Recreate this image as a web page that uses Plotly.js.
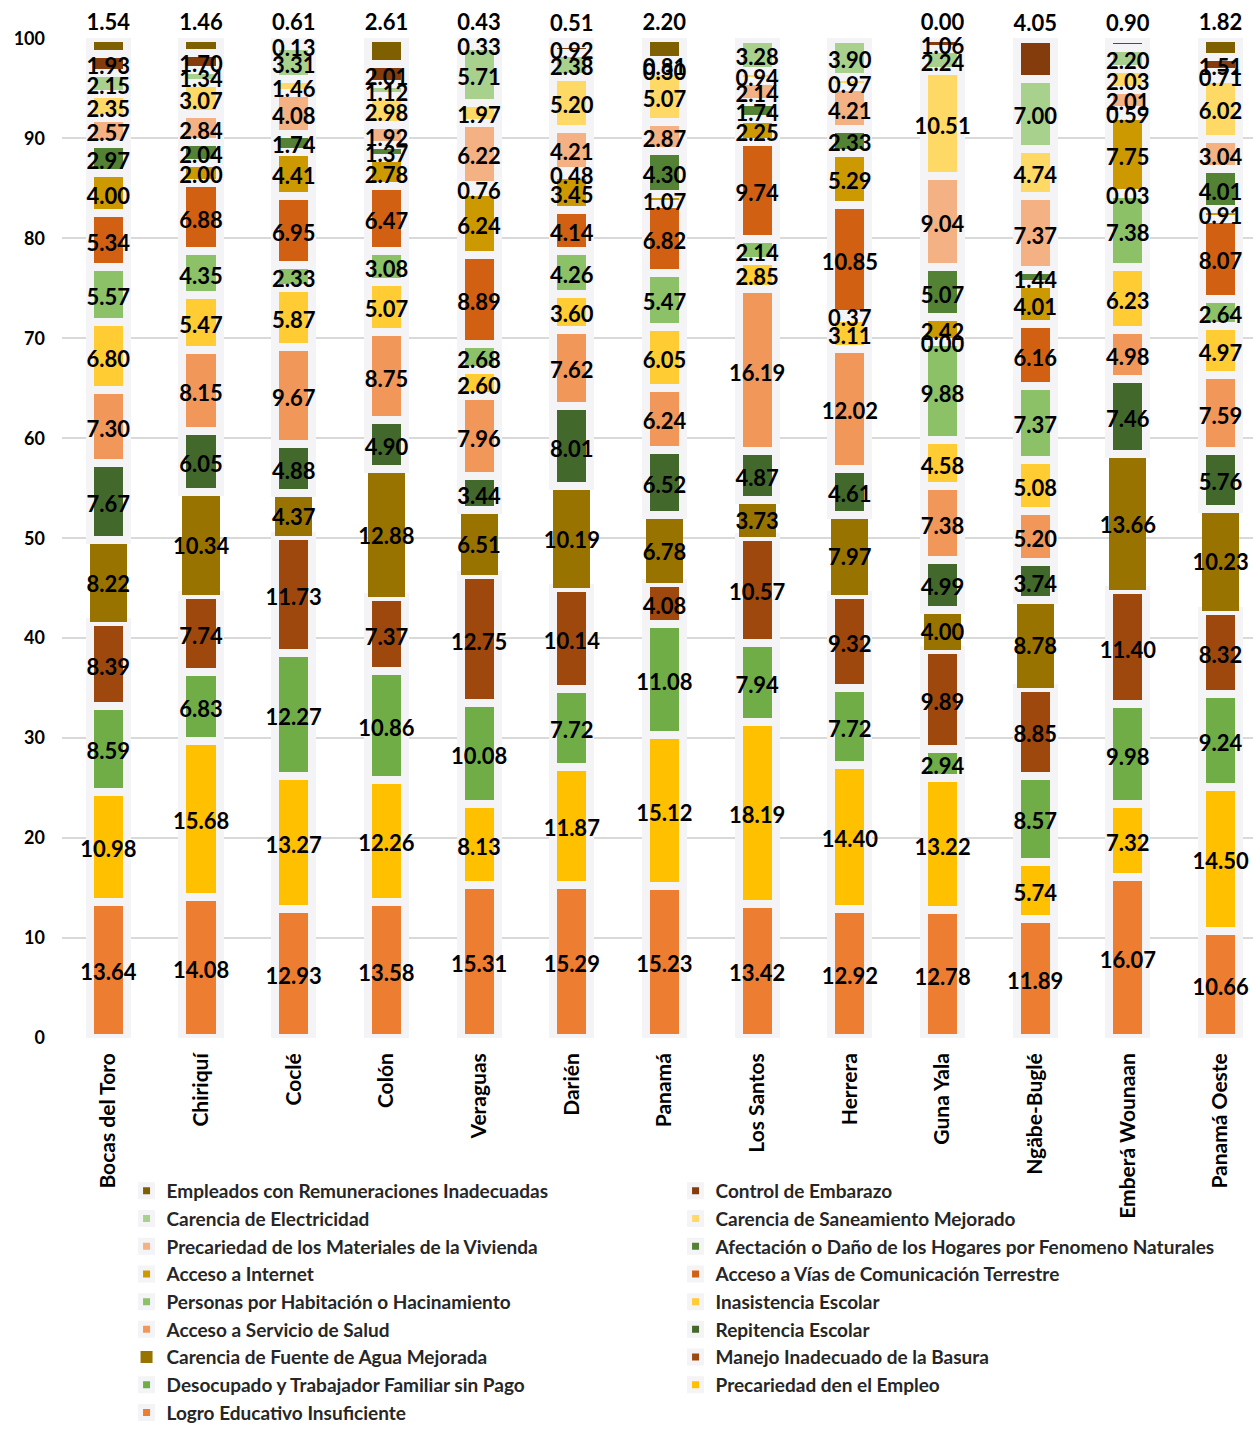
<!DOCTYPE html>
<html>
<head>
<meta charset="utf-8">
<script src="https://cdn.plot.ly/plotly-3.0.1.min.js"></script>
<style>
  body { margin: 0; background: #fff; }
  #chart { width: 1253px; height: 1431px; }
</style>
</head>
<body>
<div id="chart"></div>
<script>
// provinces and comarcas (x axis)
var regiones = ["Bocas del Toro", "Chiriquí", "Coclé", "Colón", "Veraguas", "Darién", "Panamá",
  "Los Santos", "Herrera", "Guna Yala", "Ngäbe-Buglé", "Emberá Wounaan", "Panamá Oeste"];

// one array per indicator, from the bottom of the stack to the top
var logro = [13.64, 14.08, 12.93, 13.58, 15.31, 15.29, 15.23, 13.42, 12.92, 12.78, 11.89, 16.07, 10.66];
var empleo = [10.98, 15.68, 13.27, 12.26, 8.13, 11.87, 15.12, 18.19, 14.40, 13.22, 5.74, 7.32, 14.50];
var desocupado = [8.59, 6.83, 12.27, 10.86, 10.08, 7.72, 11.08, 7.94, 7.72, 2.94, 8.57, 9.98, 9.24];
var basura = [8.39, 7.74, 11.73, 7.37, 12.75, 10.14, 4.08, 10.57, 9.32, 9.89, 8.85, 11.40, 8.32];
var agua = [8.22, 10.34, 4.37, 12.88, 6.51, 10.19, 6.78, 3.73, 7.97, 4.00, 8.78, 13.66, 10.23];
var repitencia = [7.67, 6.05, 4.88, 4.90, 3.44, 8.01, 6.52, 4.87, 4.61, 4.99, 3.74, 7.46, 5.76];
var salud = [7.30, 8.15, 9.67, 8.75, 7.96, 7.62, 6.24, 16.19, 12.02, 7.38, 5.20, 4.98, 7.59];
var inasistencia = [6.80, 5.47, 5.87, 5.07, 2.60, 3.60, 6.05, 2.85, 3.11, 4.58, 5.08, 6.23, 4.97];
var hacinamiento = [5.57, 4.35, 2.33, 3.08, 2.68, 4.26, 5.47, 2.14, 0.37, 9.88, 7.37, 7.38, 2.64];
var vias = [5.34, 6.88, 6.95, 6.47, 8.89, 4.14, 6.82, 9.74, 10.85, 0.00, 6.16, 0.03, 8.07];
var internet = [4.00, 2.00, 4.41, 2.78, 6.24, 3.45, 1.07, 2.25, 5.29, 2.42, 4.01, 7.75, 0.91];
var afectacion = [2.97, 2.04, 1.74, 1.37, 0.76, 0.48, 4.30, 1.74, 2.33, 5.07, 1.44, 0.59, 4.01];
var materiales = [2.57, 2.84, 4.08, 1.92, 6.22, 4.21, 2.87, 2.14, 4.21, 9.04, 7.37, 2.01, 3.04];
var saneamiento = [2.35, 3.07, 1.46, 2.98, 1.97, 5.20, 5.07, 0.94, 0.97, 10.51, 4.74, 2.03, 6.02];
var electricidad = [2.15, 1.34, 3.31, 1.12, 5.71, 2.38, 0.30, 3.28, 3.90, 2.24, 7.00, 2.20, 0.71];
var embarazo = [1.93, 1.70, 0.13, 2.01, 0.33, 0.92, 0.81, null, null, 1.06, 4.05, 0.90, 1.51];
var remuneraciones = [1.54, 1.46, 0.61, 2.61, 0.43, 0.51, 2.20, null, null, 0.00, null, null, 1.82];

var series = [
  {name: "Logro Educativo Insuficiente", y: logro, color: "#ED7D31"},
  {name: "Precariedad den el Empleo", y: empleo, color: "#FFC000"},
  {name: "Desocupado y Trabajador Familiar sin Pago", y: desocupado, color: "#70AD47"},
  {name: "Manejo Inadecuado de la Basura", y: basura, color: "#9E480E"},
  {name: "Carencia de Fuente de Agua Mejorada", y: agua, color: "#997300", noGlow: true},
  {name: "Repitencia Escolar", y: repitencia, color: "#43682B"},
  {name: "Acceso a Servicio de Salud", y: salud, color: "#F1975A"},
  {name: "Inasistencia Escolar", y: inasistencia, color: "#FFCD33"},
  {name: "Personas por Habitación o Hacinamiento", y: hacinamiento, color: "#8CC168"},
  {name: "Acceso a Vías de Comunicación Terrestre", y: vias, color: "#D26012"},
  {name: "Acceso a Internet", y: internet, color: "#CC9A00"},
  {name: "Afectación o Daño de los Hogares por Fenomeno Naturales", y: afectacion, color: "#548235"},
  {name: "Precariedad de los Materiales de la Vivienda", y: materiales, color: "#F4B183"},
  {name: "Carencia de Saneamiento Mejorado", y: saneamiento, color: "#FFD966"},
  {name: "Carencia de Electricidad", y: electricidad, color: "#A9D18E"},
  {name: "Control de Embarazo", y: embarazo, color: "#843C0C"},
  {name: "Empleados con Remuneraciones Inadecuadas", y: remuneraciones, color: "#7F6000"}
];

var labelFont = {family: "Lato", size: 22, color: "#000", weight: "bold"};

// the top label of each column sits above it
function isTop(k, i) {
  if (k === series.length - 1) return true;
  return k === series.length - 2 && remuneraciones[i] === null;
}

var data = series.map(function (s, k) {
  return {
    type: "bar",
    name: s.name,
    x: regiones,
    y: s.y,
    width: 0.40,
    text: s.y.map(function (v) { return v === null ? "" : v.toFixed(2); }),
    textposition: s.y.map(function (v, i) { return isTop(k, i) ? "outside" : "none"; }),
    textangle: 0,
    constraintext: "none",
    cliponaxis: false,
    outsidetextfont: labelFont,
    marker: {
      color: s.color,
      line: {color: s.noGlow ? s.color : "#F4F4F6", width: s.noGlow ? 0 : 8}
    },
    hoverinfo: "x+y+name"
  };
});

// the other value labels go in a text layer above all the bars,
// near the middle of each stacked segment
var lx = [], ly = [], lt = [];
regiones.forEach(function (r, i) {
  var base = 0;
  series.forEach(function (s, k) {
    var v = s.y[i];
    if (v === null) return;
    if (!isTop(k, i)) {
      lx.push(r);
      ly.push(base + v / 2 - 0.5);
      lt.push(v.toFixed(2));
    }
    base += v;
  });
});

data.push({
  type: "scatter",
  mode: "text",
  x: lx,
  y: ly,
  text: lt,
  textposition: "middle center",
  textfont: labelFont,
  cliponaxis: false,
  showlegend: false,
  hoverinfo: "skip"
});

var layout = {
  width: 1253,
  height: 1431,
  barmode: "stack",
  paper_bgcolor: "#fff",
  plot_bgcolor: "#fff",
  margin: {l: 62, r: 0, t: 38, b: 393},
  font: {family: "Lato", color: "#000"},
  showlegend: true,
  xaxis: {
    range: [-0.5, 12.35],
    tickangle: -90,
    tickfont: {family: "Lato", size: 21, color: "#000", weight: "bold"},
    ticklabelstandoff: 10,
    showgrid: false,
    showline: false,
    zeroline: false
  },
  yaxis: {
    range: [0, 100.04],
    tickvals: [0, 10, 20, 30, 40, 50, 60, 70, 80, 90, 100],
    tickfont: {family: "Lato", size: 18, color: "#000", weight: "bold"},
    ticklabelstandoff: 16,
    gridcolor: "#D9D9D9",
    gridwidth: 2,
    zeroline: false,
    showline: false
  },
  legend: {
    orientation: "h",
    traceorder: "reversed",
    xref: "container",
    yref: "container",
    x: 0.101,
    xanchor: "left",
    y: 0.181,
    yanchor: "top",
    entrywidth: 504,
    entrywidthmode: "pixels",
    bgcolor: "rgba(0,0,0,0)",
    font: {family: "Lato", size: 19, color: "#262626", weight: "bold"},
    itemclick: false
  }
};

Plotly.newPlot("chart", data, layout, {displayModeBar: false});
</script>
</body>
</html>
